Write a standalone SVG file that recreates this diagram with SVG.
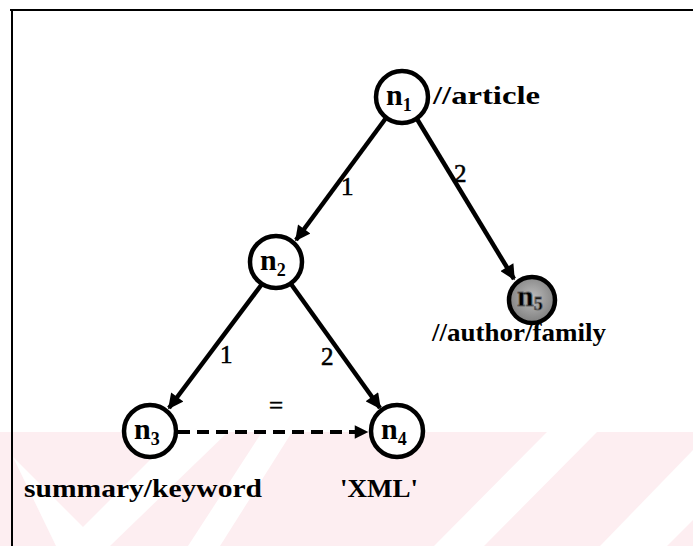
<svg xmlns="http://www.w3.org/2000/svg" width="693" height="546" viewBox="0 0 693 546">
<defs>
<style>
.node{fill:#fff;stroke:#000;stroke-width:4.5}
.lbl{font-family:"Liberation Serif","Times New Roman",serif;font-weight:bold;fill:#000;font-size:25px}
.nl{font-family:"Liberation Serif","Times New Roman",serif;font-weight:bold;font-size:30px;fill:#000}
.sub{font-size:18px}
.edge{stroke:#000;stroke-width:4.5;fill:none}
.dash{stroke:#000;stroke-width:4;fill:none;stroke-dasharray:12 7}
.el{font-family:"Liberation Serif","Times New Roman",serif;font-size:25px;fill:#000;stroke:#000;stroke-width:0.6}
</style>
<marker id="ah" viewBox="0 0 10 10" refX="9" refY="5" markerWidth="3.6" markerHeight="3.4" orient="auto" markerUnits="strokeWidth">
<path d="M0,0 L10,5 L0,10 z" fill="#000"/>
</marker>
<radialGradient id="g5" cx="50%" cy="45%" r="55%">
<stop offset="0" stop-color="#bdbdbd"/>
<stop offset="1" stop-color="#7f7f7f"/>
</radialGradient>
</defs>
<rect width="693" height="546" fill="#fff"/>
<g id="watermark">
<rect x="0" y="432" width="693" height="114" fill="#fdeef1"/>
<polygon points="13,457 83,527 178,432 228,432 110,546 56,546" fill="#fff"/>
<polygon points="262,432 292,432 220,546 188,546" fill="#fff"/>
<polygon points="547,432 597,432 484,546 434,546" fill="#fff"/>
<polygon points="693,450 693,520 667,546 600,546" fill="#fff"/>
</g>
<g id="frame">
<line x1="10" y1="10" x2="693" y2="10" stroke="#000" stroke-width="2"/>
<line x1="12" y1="10" x2="12" y2="546" stroke="#000" stroke-width="2"/>
</g>
<g id="connectors">
<line class="edge" x1="386" y1="118" x2="296" y2="240" marker-end="url(#ah)"/>
<line class="edge" x1="417" y1="119" x2="514" y2="279" marker-end="url(#ah)"/>
<line class="edge" x1="262" y1="284" x2="169" y2="408" marker-end="url(#ah)"/>
<line class="edge" x1="291" y1="284" x2="380" y2="408" marker-end="url(#ah)"/>
<line class="dash" x1="178" y1="432" x2="367" y2="432" marker-end="url(#ah)"/>
<text class="el" x="341" y="195">1</text>
<text class="el" x="454" y="182">2</text>
<text class="el" x="220" y="363">1</text>
<text class="el" x="321" y="365">2</text>
<text class="el" x="269" y="414" font-size="29">=</text>
</g>
<g id="n1">
<circle class="node" cx="402" cy="97" r="26"/>
<text class="nl" x="386" y="105">n<tspan class="sub" dy="6">1</tspan></text>
<text class="lbl" x="433" y="104" textLength="107" lengthAdjust="spacingAndGlyphs">//article</text>
</g>
<g id="n2">
<circle class="node" cx="276" cy="262" r="26"/>
<text class="nl" x="260" y="270">n<tspan class="sub" dy="6">2</tspan></text>
</g>
<g id="n5">
<circle cx="532" cy="300" r="23" fill="url(#g5)" stroke="#000" stroke-width="4.5"/>
<text class="nl" x="517" y="306" fill="#d6d6d6" stroke="#666" stroke-width="0.8">n<tspan class="sub" dy="4">5</tspan></text>
<text class="lbl" x="432" y="341" textLength="174" lengthAdjust="spacingAndGlyphs">//author/family</text>
</g>
<g id="n3">
<circle class="node" cx="150" cy="431" r="26"/>
<text class="nl" x="134" y="439">n<tspan class="sub" dy="6">3</tspan></text>
<text class="lbl" x="24" y="497" textLength="238" lengthAdjust="spacingAndGlyphs">summary/keyword</text>
</g>
<g id="n4">
<circle class="node" cx="397" cy="431" r="26"/>
<text class="nl" x="381" y="439">n<tspan class="sub" dy="6">4</tspan></text>
<text class="lbl" x="340" y="497" textLength="78" lengthAdjust="spacingAndGlyphs">'XML'</text>
</g>
</svg>
